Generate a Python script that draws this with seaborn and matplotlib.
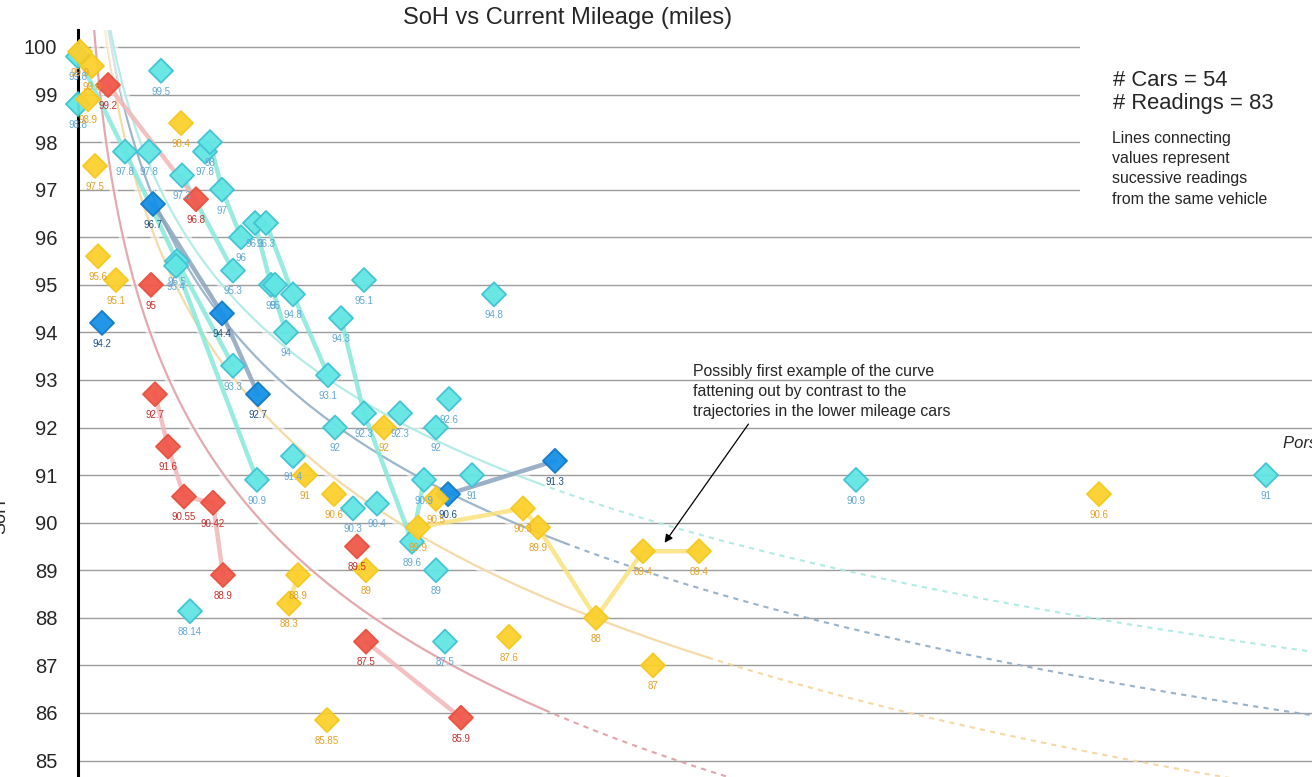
import matplotlib
matplotlib.use("Agg")
import matplotlib.pyplot as plt
import matplotlib.patheffects as pe
from matplotlib.patches import Rectangle
import numpy as np
import pandas as pd
import seaborn as sns

# ---- readings (mileage, SoH, vehicle id for successive readings) ----
cyan_miles = [0, 0, 4150, 2350, 3550, 5200, 6350, 6600, 7200, 8150, 8850, 9400, 7750, 4950, 4900,
              9650, 9850, 10750, 10400, 13150, 14300, 20800, 7750, 12500, 14300, 16100, 12850, 18550,
              17900, 10750, 8950, 17300, 19700, 13750, 14950, 16700, 17900, 5600, 18350, 38900, 59400]
cyan_soh = [99.8, 98.8, 99.5, 97.8, 97.8, 97.3, 97.8, 98.0, 97.0, 96.0, 96.3, 96.3, 95.3, 95.5, 95.4,
            95.0, 95.0, 94.8, 94.0, 94.3, 95.1, 94.8, 93.3, 93.1, 92.3, 92.3, 92.0, 92.6,
            92.0, 91.4, 90.9, 90.9, 91.0, 90.3, 90.4, 89.6, 89.0, 88.14, 87.5, 90.9, 91.0]
cyan_vehicle = ["C1", "", "", "C1", "", "C3", "", "C4", "C4", "C4", "C5", "C6", "C3", "C1", "C2",
                "C5", "", "C6", "C5", "C8", "", "", "C1", "C6", "C8", "", "", "",
                "", "", "C2", "C8", "", "", "", "C8", "", "", "", "", ""]

blue_miles = [1200, 3750, 7200, 9000, 18500, 23850]
blue_soh = [94.2, 96.7, 94.4, 92.7, 90.6, 91.3]
blue_vehicle = ["", "B1", "B1", "B1", "B2", "B2"]

red_miles = [1500, 5900, 3650, 3850, 4500, 5300, 6750, 7250, 13950, 14400, 19150]
red_soh = [99.2, 96.8, 95.0, 92.7, 91.6, 90.55, 90.42, 88.9, 89.5, 87.5, 85.9]
red_vehicle = ["R1", "R1", "", "R2", "R2", "R2", "R2", "R2", "", "R3", "R3"]

yellow_miles = [100, 700, 500, 850, 1000, 1900, 5150, 15300, 11350, 12800, 17900, 17000, 22250,
                23000, 25900, 28250, 31050, 11000, 10550, 14400, 28750, 21550, 12450, 51050]
yellow_soh = [99.9, 99.6, 98.9, 97.5, 95.6, 95.1, 98.4, 92.0, 91.0, 90.6, 90.5, 89.9, 90.3,
              89.9, 88.0, 89.4, 89.4, 88.9, 88.3, 89.0, 87.0, 87.6, 85.85, 90.6]
yellow_vehicle = ["", "", "", "", "", "", "", "", "", "", "", "Y1", "Y1",
                  "Y1", "Y1", "Y1", "Y1", "Y2", "Y2", "", "", "", "", ""]

# logarithmic trend lines: soh = ref_soh + slope * ln(miles / ref_miles)
trend_groups = ["red", "yellow", "blue", "cyan"]
trend_ref_miles = [23350, 25950, 24350, 33600]
trend_ref_soh = [86.06, 87.98, 89.57, 89.47]
trend_slope = [-4.25, -4.20, -3.89, -3.59]
trend_solid_end = [23350, 31500, 24350, 23100]

# ---- styles ----
fill_colors = {"cyan": "#62e6e4", "blue": "#1690e6", "red": "#f0584a", "yellow": "#fbd02c"}
edge_colors = {"cyan": "#3fc2d2", "blue": "#137ac8", "red": "#e8503f", "yellow": "#f6c81f"}
label_colors = {"cyan": "#62a6d6", "blue": "#1f4f80", "red": "#c3302a", "yellow": "#e6a126"}
link_colors = {"cyan": "#86e8da", "blue": "#8ba4bd", "red": "#f2b6b6", "yellow": "#f8e27c"}
trend_colors = {"red": "#e0a0a6", "yellow": "#f3d7a0", "blue": "#93aec6", "cyan": "#aeeae4"}

frames = []
for name, m, s, v in [("cyan", cyan_miles, cyan_soh, cyan_vehicle),
                      ("blue", blue_miles, blue_soh, blue_vehicle),
                      ("red", red_miles, red_soh, red_vehicle),
                      ("yellow", yellow_miles, yellow_soh, yellow_vehicle)]:
    frames.append(pd.DataFrame({"miles": m, "soh": s, "vehicle": v, "group": name}))
df = pd.concat(frames, ignore_index=True)

sns.set_style("white")
plt.rcParams["font.family"] = ["Liberation Sans", "DejaVu Sans"]

fig = plt.figure(figsize=(13.12, 7.77), dpi=100)
ax = fig.add_axes([78 / 1312, 0, 1 - 78 / 1312, (777 - 30) / 777])
ax.set_xlim(0, 61700)
ax.set_ylim(84.654, 100.357)

# grid + axis
ax.set_axisbelow(True)
ax.set_yticks(range(85, 101))
ax.yaxis.grid(True, color="#9c9c9c", linewidth=1.0)
ax.xaxis.grid(False)
ax.set_xticks([])
ax.tick_params(axis="y", length=0, pad=15, labelsize=14.5)
for side in ["top", "right", "bottom"]:
    ax.spines[side].set_visible(False)
ax.spines["left"].set_color("black")
ax.spines["left"].set_linewidth(2.2)

# trend lines
x_right = ax.get_xlim()[1]
for g, rm, rs, sl, se in zip(trend_groups, trend_ref_miles, trend_ref_soh, trend_slope, trend_solid_end):
    xs = np.geomspace(50, se, 300)
    ax.plot(xs, rs + sl * np.log(xs / rm), color=trend_colors[g], lw=1.6, alpha=0.9, zorder=2,
            path_effects=[pe.Stroke(linewidth=6, foreground="white", alpha=0.6), pe.Normal()])
    xd = np.linspace(se, x_right, 200)
    ax.plot(xd, rs + sl * np.log(xd / rm), color=trend_colors[g], lw=1.5, ls=(0, (2.5, 2.5)),
            alpha=0.95, zorder=2)

# successive readings of the same vehicle
links = df[df["vehicle"] != ""]
sns.lineplot(data=links, x="miles", y="soh", hue="group", units="vehicle", estimator=None,
             palette=link_colors, linewidth=3.2, alpha=0.85, legend=False, ax=ax, zorder=3)

# readings
sns.scatterplot(data=df, x="miles", y="soh", hue="group", palette=fill_colors, marker="D", s=150,
                edgecolor=list(df["group"].map(edge_colors)), linewidth=1.3, alpha=0.95,
                legend=False, ax=ax, zorder=4, clip_on=False)
for _, r in df.iterrows():
    ax.annotate(f"{r['soh']:g}", (r["miles"], r["soh"]), xytext=(0, -15), textcoords="offset points",
                ha="center", va="center", fontsize=7, color=label_colors[r["group"]], zorder=5,
                annotation_clip=False)
ax.set_xlabel("")
ax.set_ylabel("")

# white panel behind the counts
ax.add_patch(Rectangle((1080 / 1312, 1 - 215 / 777), 232 / 1312, 177 / 777, transform=fig.transFigure,
                       facecolor="white", edgecolor="none", zorder=1, clip_on=False))

fig.text(568 / 1312, 1 - 18 / 777, "SoH vs Current Mileage (miles)", ha="center", va="center", fontsize=17)
fig.text(1 / 1312, 1 - 517 / 777, "SoH", rotation=90, ha="center", va="center", fontsize=13)

fig.text(1113 / 1312, 1 - 80 / 777, "# Cars = 54", ha="left", va="center", fontsize=15.8)
fig.text(1113 / 1312, 1 - 104 / 777, "# Readings = 83", ha="left", va="center", fontsize=15.8)
note_lines = ["Lines connecting", "values represent", "sucessive readings", "from the same vehicle"]
for i, line in enumerate(note_lines):
    fig.text(1112 / 1312, 1 - (139 + 20 * i) / 777, line, ha="left", va="center", fontsize=11.4)

comment_lines = ["Possibly first example of the curve", "fattening out by contrast to the",
                 "trajectories in the lower mileage cars"]
for i, line in enumerate(comment_lines):
    fig.text(693 / 1312, 1 - (372 + 19.5 * i) / 777, line, ha="left", va="center", fontsize=11.4)
ax.annotate("", xy=(29250, 89.53), xytext=(33600, 92.12),
            arrowprops=dict(arrowstyle="-|>", color="black", lw=0.9, mutation_scale=12), zorder=6)

fig.text(1283 / 1312, 1 - 443 / 777, "Porsche Taycan", ha="left", va="center", fontsize=12, style="italic")

fig.savefig("out.png", dpi=100)
